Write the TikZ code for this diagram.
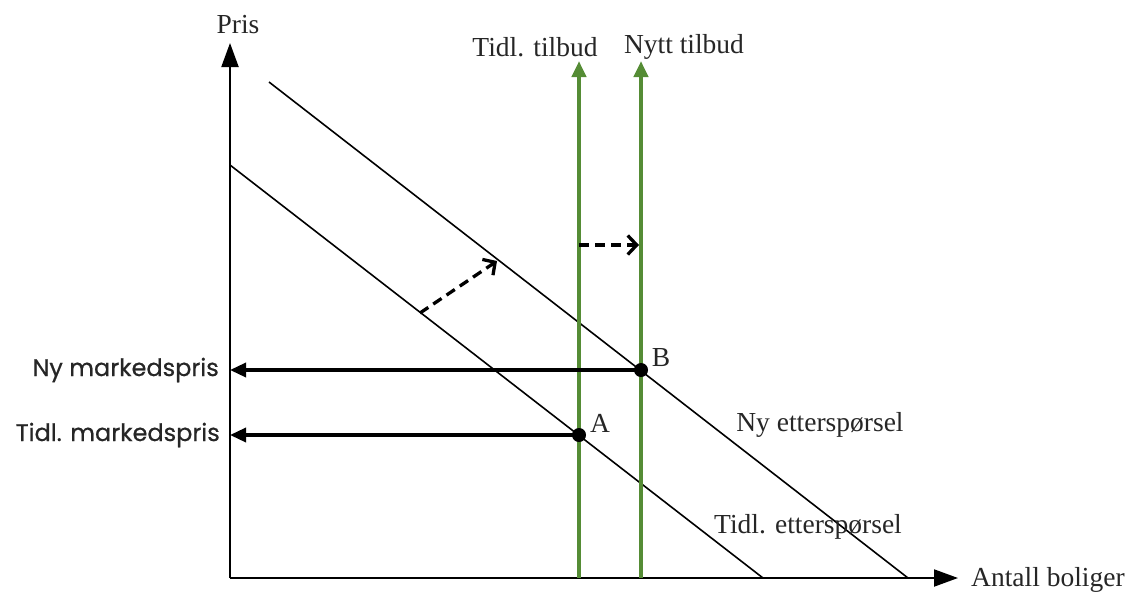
\documentclass[tikz,border=0pt]{standalone}
\usepackage{fontspec}
\setmainfont{Liberation Serif}
\newfontfamily\labelsans{Poppins}[FakeBold=0.6]
\usetikzlibrary{arrows.meta}
\definecolor{supgreen}{HTML}{558C35}
\definecolor{txt}{HTML}{262626}
\begin{document}
\begin{tikzpicture}[x=1pt,y=-1pt,
  axis/.style={line width=2pt,-{Triangle[length=24pt,width=17pt]}},
  demand/.style={line width=1.6pt},
  supply/.style={line width=4.2pt,supgreen,-{Triangle[length=16pt,width=14pt]}},
  pricearrow/.style={line width=3.4pt,-{Triangle[length=16pt,width=14pt]}},
  shiftarrow/.style={line width=3.3pt,dash pattern=on 10pt off 6pt,-{Straight Barb[length=9pt,width=19pt,line width=3.3pt]}},
  dot/.style={circle,fill=black,inner sep=0pt,minimum size=14pt},
  serif/.style={text=txt,font=\fontsize{27.5}{32}\selectfont,inner sep=0pt},
  sanslab/.style={text=txt,font=\labelsans\fontsize{24}{28}\selectfont,inner sep=0pt,anchor=east}]
\useasboundingbox (0,0) rectangle (1135,592);
% axes
\coordinate (O) at (230,578);
\coordinate (ytip) at (230,43);
\coordinate (xtip) at (958,578);
\draw[axis] (O) -- (ytip);
\draw[axis] (O) -- (xtip);
% demand curves
\coordinate (d1s) at (230,165);
\coordinate (d1e) at (763,578);
\coordinate (d2s) at (269,82);
\coordinate (d2e) at (908,578);
\draw[demand] (d1s) -- (d1e);
\draw[demand] (d2s) -- (d2e);
% supply
\coordinate (s1b) at (579,578);
\coordinate (s1t) at (579,61);
\coordinate (s2b) at (641,578);
\coordinate (s2t) at (641,61);
\draw[supply] (s1b) -- (s1t);
\draw[supply] (s2b) -- (s2t);
% equilibrium points
\node[dot] (A) at (579,435) {};
\node[dot] (B) at (641,370) {};
\coordinate (pA) at (230,435);
\coordinate (pB) at (230,370);
\draw[pricearrow] (A.center) -- (pA);
\draw[pricearrow] (B.center) -- (pB);
% shifts
\coordinate (sh1s) at (420,313);
\coordinate (sh1e) at (497,261);
\coordinate (sh2s) at (579,245);
\coordinate (sh2e) at (639,245);
\draw[shiftarrow] (sh1s) -- (sh1e);
\draw[shiftarrow] (sh2s) -- (sh2e);
% labels
\node[serif] (pris) at (238,25) {Pris};
\node[serif] (ltidl) at (535,47) {Tidl. tilbud};
\node[serif] (lnytt) at (684,47) {Nytt tilbud};
\node[serif] (lA) at (600,423) {A};
\node[serif] (lB) at (661,358) {B};
\node[serif] (lny) at (820,425) {Ny etterspørsel};
\node[serif] (ltd) at (808,527) {Tidl. etterspørsel};
\node[serif,anchor=west] (lx) at (971,580) {Antall boliger};
\node[sanslab] (lnyp) at (219,370) {Ny markedspris};
\node[sanslab] (ltdp) at (220,435) {Tidl. markedspris};
\end{tikzpicture}
\end{document}
